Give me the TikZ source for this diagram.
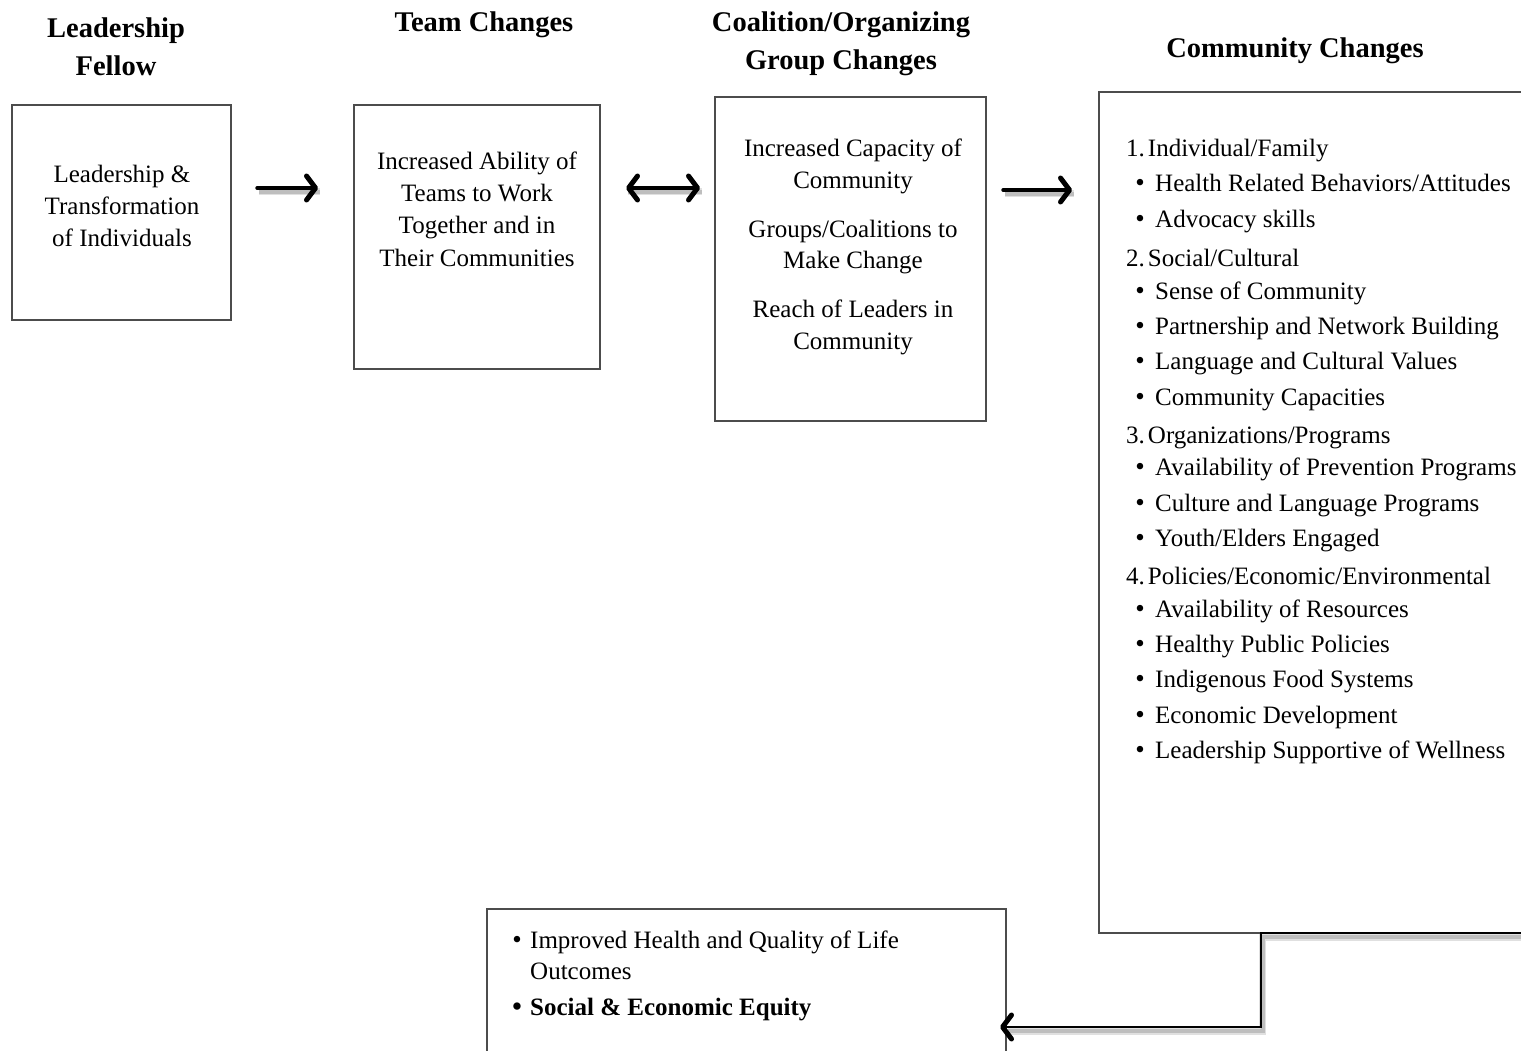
\documentclass[tikz,border=0pt]{standalone}
\usepackage{fontspec}
\setmainfont{Liberation Serif}
\usetikzlibrary{arrows.meta}
\tikzset{
  box/.style={draw=black!70, line width=1.2pt, inner sep=0pt, outer sep=0pt},
  body/.style={font=\fontsize{25}{32}\selectfont, inner sep=0pt, anchor=base},
  bodyl/.style={body, anchor=base west},
  bul/.style={font=\fontsize{27}{32}\selectfont, inner sep=0pt, anchor=base},
  head/.style={font=\fontsize{28.5}{38}\selectfont\bfseries, inner sep=0pt, anchor=base},
  tip/.tip={Straight Barb[length=9pt,width=24pt,line width=5pt 0 0,round]},
  arr/.style={line width=3.4pt, line cap=round, -tip},
  darr/.style={line width=3.4pt, line cap=round, tip-tip},
  shad/.style={draw=black, opacity=0.12, line width=7pt},
  shadb/.style={draw=black, opacity=0.15, line width=4pt},
  conn/.style={line width=2.8pt, -tip},
}
\newcommand{\numsp}{\hspace{3pt}}
\begin{document}
\begin{tikzpicture}[x=1pt,y=-1pt]
\clip (0,0) rectangle (1521,1051);
\fill[white] (0,0) rectangle (1521,1051);

% headings
\node[head] (h1a) at (116,38) {Leadership};
\node[head] (h1b) at (116,76) {Fellow};
\node[head] (h2) at (484,32) {Team Changes};
\node[head] (h3a) at (841,32) {Coalition/Organizing};
\node[head] (h3b) at (841,70) {Group Changes};
\node[head] (h4) at (1295,58) {Community Changes};

% boxes
\node[box, minimum width=219pt, minimum height=215pt] (b1) at (121.5,212.5) {};
\node[box, minimum width=246pt, minimum height=264pt] (b2) at (477,237) {};
\node[box, minimum width=271pt, minimum height=324pt] (b3) at (850.5,259) {};
\node[box, minimum width=471pt, minimum height=841pt] (comm) at (1334.5,512.5) {};
\node[box, minimum width=519pt, minimum height=236pt] (res) at (746.5,1027) {};

% box 1 text
\node[body] (t1a) at (122,183) {Leadership \&};
\node[body] (t1b) at (122,215) {Transformation};
\node[body] (t1c) at (122,247) {of Individuals};

% box 2 text
\node[body] (t2a) at (477,170) {Increased Ability of};
\node[body] (t2b) at (477,202) {Teams to Work};
\node[body] (t2c) at (477,234) {Together and in};
\node[body] (t2d) at (477,266) {Their Communities};

% box 3 text
\node[body] (t3a) at (853,157) {Increased Capacity of};
\node[body] (t3b) at (853,189) {Community};
\node[body] (t3c) at (853,237) {Groups/Coalitions to};
\node[body] (t3d) at (853,269) {Make Change};
\node[body] (t3e) at (853,317) {Reach of Leaders in};
\node[body] (t3f) at (853,349) {Community};

% community text
\node[bodyl] (c1) at (1126,157) {1.\numsp Individual/Family};
\node[bul] (c1ab) at (1140,192) {•}; \node[bodyl] (c1a) at (1155,192) {Health Related Behaviors/Attitudes};
\node[bul] (c1bb) at (1140,228) {•}; \node[bodyl] (c1b) at (1155,228) {Advocacy skills};
\node[bodyl] (c2) at (1126,266) {2.\numsp Social/Cultural};
\node[bul] (c2ab) at (1140,299) {•}; \node[bodyl] (c2a) at (1155,299) {Sense of Community};
\node[bul] (c2bb) at (1140,334) {•}; \node[bodyl] (c2b) at (1155,334) {Partnership and Network Building};
\node[bul] (c2cb) at (1140,369) {•}; \node[bodyl] (c2c) at (1155,369) {Language and Cultural Values};
\node[bul] (c2db) at (1140,405) {•}; \node[bodyl] (c2d) at (1155,405) {Community Capacities};
\node[bodyl] (c3) at (1126,443) {3.\numsp Organizations/Programs};
\node[bul] (c3ab) at (1140,475) {•}; \node[bodyl] (c3a) at (1155,475) {Availability of Prevention Programs};
\node[bul] (c3bb) at (1140,511) {•}; \node[bodyl] (c3b) at (1155,511) {Culture and Language Programs};
\node[bul] (c3cb) at (1140,546) {•}; \node[bodyl] (c3c) at (1155,546) {Youth/Elders Engaged};
\node[bodyl] (c4) at (1126,584) {4.\numsp Policies/Economic/Environmental};
\node[bul] (c4ab) at (1140,617) {•}; \node[bodyl] (c4a) at (1155,617) {Availability of Resources};
\node[bul] (c4bb) at (1140,652) {•}; \node[bodyl] (c4b) at (1155,652) {Healthy Public Policies};
\node[bul] (c4cb) at (1140,687) {•}; \node[bodyl] (c4c) at (1155,687) {Indigenous Food Systems};
\node[bul] (c4db) at (1140,723) {•}; \node[bodyl] (c4d) at (1155,723) {Economic Development};
\node[bul] (c4eb) at (1140,758) {•}; \node[bodyl] (c4e) at (1155,758) {Leadership Supportive of Wellness};

% result text
\node[bul] (r1b) at (517,948) {•}; \node[bodyl] (r1a) at (530,948) {Improved Health and Quality of Life};
\node[bodyl] (r1c) at (530,979) {Outcomes};
\node[bul, font=\fontsize{27}{32}\selectfont\bfseries] (r2b) at (517,1015) {•}; \node[bodyl, font=\fontsize{25}{32}\selectfont\bfseries] (r2a) at (530,1015) {Social \& Economic Equity};

% arrow coordinates
\coordinate (a1s) at (257,188);
\coordinate (a1e) at (318,188);
\coordinate (a2s) at (626,188);
\coordinate (a2e) at (700,188);
\coordinate (a3s) at (1003,190);
\coordinate (a3e) at (1072,190);
\coordinate (j) at (1261,1027);

% soft shadows
\begin{scope}[transform canvas={shift={(1.5pt,-4pt)}}]
  \draw[shad] (a1s) -- (a1e);
  \draw[shad] (a2s) -- (a2e);
  \draw[shad] (a3s) -- (a3e);
  \draw[shad] (1521,933) -| (j) -- (res.east);
  \draw[shadb] (a1s) -- (a1e);
  \draw[shadb] (a2s) -- (a2e);
  \draw[shadb] (a3s) -- (a3e);
  \draw[shadb] (1521,933) -| (j) -- (res.east);
\end{scope}

% arrows
\draw[arr] (a1s) -- (a1e);
\draw[darr] (a2s) -- (a2e);
\draw[arr] (a3s) -- (a3e);
\draw[conn, shorten >=-6pt] (comm.south east) -| (j) -- (res.east);
\end{tikzpicture}
\end{document}
